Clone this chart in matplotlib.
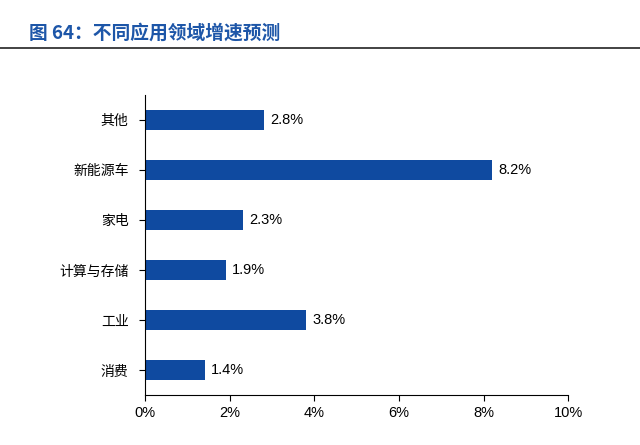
import matplotlib

matplotlib.use("Agg")
import matplotlib.pyplot as plt
from matplotlib.ticker import FuncFormatter

plt.rcParams["font.family"] = ["Noto Sans CJK SC", "DejaVu Sans"]

categories = ["其他", "新能源车", "家电", "计算与存储", "工业", "消费"]
growth = [2.8, 8.2, 2.3, 1.9, 3.8, 1.4]
bar_color = "#0f4aa0"

fig = plt.figure(figsize=(6.4, 4.45), dpi=100)
ax = fig.add_axes([0.227, 0.112, 0.661, 0.675])

ypos = list(range(len(categories)))
ax.barh(ypos, growth, height=0.4, color=bar_color)
for y, v in zip(ypos, growth):
    ax.text(v + 0.15, y, f"{v:.1f}%", va="center", ha="left", fontsize=10.5,
            family=["Liberation Sans", "DejaVu Sans"])

ax.set_ylim(len(categories) - 0.5, -0.5)
ax.set_yticks(ypos)
ax.set_yticklabels(categories, fontsize=10)
ax.set_xlim(0, 10)
ax.set_xticks(range(0, 11, 2))
ax.xaxis.set_major_formatter(FuncFormatter(lambda x, _: f"{x:.0f}%"))
for lab in ax.get_xticklabels():
    lab.set_family(["Liberation Sans", "DejaVu Sans"])
    lab.set_fontsize(10.5)
ax.tick_params(axis="y", length=4, direction="out", pad=8)
ax.tick_params(axis="x", length=4, direction="out")
ax.spines["top"].set_visible(False)
ax.spines["right"].set_visible(False)

fig.text(0.045, 0.925, "图 64：不同应用领域增速预测", fontsize=13.5, fontweight="bold",
         color="#1d56a8", va="center")
fig.add_artist(plt.Line2D([0.0, 1.0], [0.892, 0.892], color="#222222", lw=1.2,
                          transform=fig.transFigure))

fig.savefig("out.png", dpi=100)
